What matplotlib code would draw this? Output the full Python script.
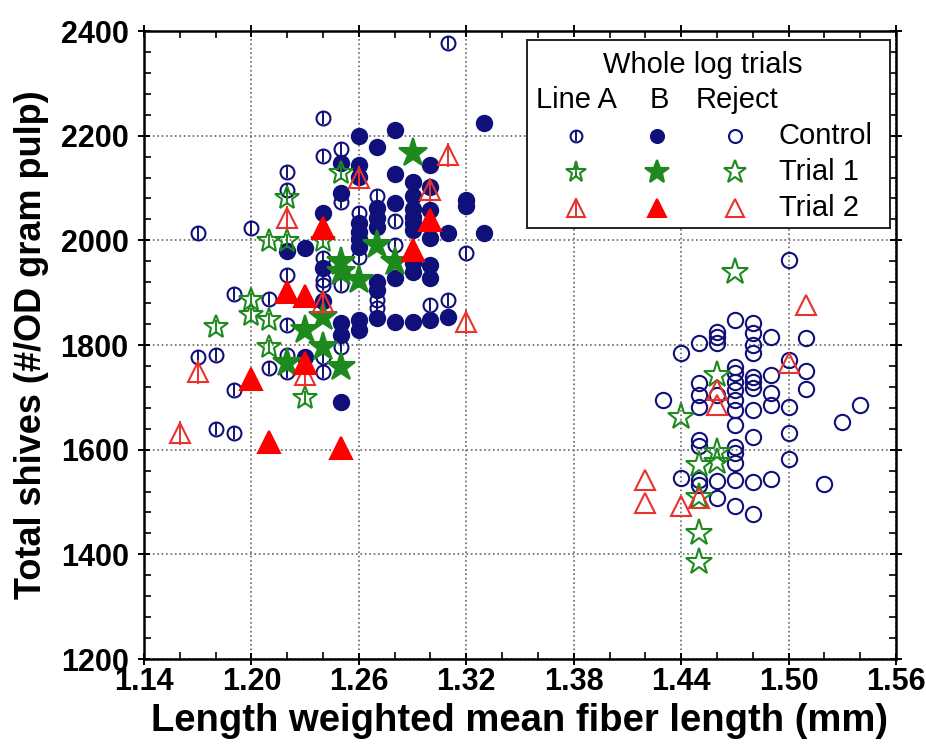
import matplotlib
matplotlib.use("Agg")
import matplotlib.pyplot as plt
from matplotlib.ticker import MultipleLocator

plt.rcParams['font.family'] = ['Liberation Sans', 'DejaVu Sans']

# Line A, control (open circle with bar)
a_ctrl_x = [1.31, 1.24, 1.25, 1.24, 1.22, 1.22, 1.25, 1.27, 1.26, 1.28, 1.20, 1.17,
            1.28, 1.32, 1.26, 1.24, 1.22, 1.24, 1.24, 1.25, 1.19, 1.21, 1.27, 1.31,
            1.30, 1.27, 1.22, 1.25, 1.18, 1.17, 1.22, 1.24, 1.21, 1.24, 1.22, 1.19,
            1.18, 1.19]
a_ctrl_y = [2377, 2234, 2174, 2161, 2131, 2096, 2073, 2085, 2052, 2037, 2024, 2014,
            1991, 1976, 1968, 1966, 1934, 1924, 1915, 1915, 1897, 1888, 1886, 1886,
            1876, 1871, 1838, 1796, 1781, 1777, 1781, 1777, 1756, 1748, 1748, 1714,
            1639, 1632]

# Line B, control (filled circle)
b_ctrl_x = [1.33, 1.28, 1.26, 1.27, 1.25, 1.26, 1.30, 1.28, 1.26, 1.29, 1.30, 1.25,
            1.29, 1.32, 1.28, 1.32, 1.27, 1.29, 1.30, 1.24, 1.27, 1.29, 1.26, 1.29,
            1.27, 1.29, 1.26, 1.31, 1.33, 1.30, 1.26, 1.26, 1.23, 1.22, 1.30, 1.29,
            1.24, 1.29, 1.30, 1.28, 1.27, 1.27, 1.24, 1.31, 1.27, 1.30, 1.26, 1.28,
            1.29, 1.25, 1.26, 1.25, 1.23, 1.25]
b_ctrl_y = [2224, 2211, 2200, 2178, 2148, 2144, 2144, 2127, 2121, 2111, 2102, 2090,
            2085, 2077, 2071, 2066, 2062, 2060, 2058, 2052, 2043, 2044, 2033, 2033,
            2026, 2020, 2016, 2014, 2014, 2004, 2003, 1988, 1986, 1979, 1953, 1957,
            1947, 1940, 1928, 1928, 1920, 1905, 1885, 1853, 1851, 1848, 1848, 1844,
            1844, 1842, 1829, 1819, 1777, 1691]

# Reject, control (open circle)
r_ctrl_x = [1.50, 1.47, 1.48, 1.48, 1.48, 1.48, 1.46, 1.46, 1.46, 1.45, 1.49, 1.51,
            1.44, 1.47, 1.47, 1.47, 1.47, 1.47, 1.47, 1.47, 1.48, 1.48, 1.48, 1.49,
            1.49, 1.49, 1.50, 1.50, 1.51, 1.51, 1.45, 1.45, 1.45, 1.43, 1.46, 1.54,
            1.53, 1.48, 1.48, 1.50, 1.45, 1.45, 1.47, 1.47, 1.47, 1.50, 1.44, 1.45,
            1.45, 1.46, 1.47, 1.48, 1.49, 1.52, 1.46, 1.47, 1.48]
r_ctrl_y = [1962, 1848, 1842, 1823, 1800, 1785, 1825, 1815, 1804, 1804, 1815, 1813,
            1785, 1758, 1746, 1729, 1714, 1695, 1676, 1647, 1739, 1729, 1718, 1743,
            1708, 1685, 1771, 1681, 1750, 1716, 1727, 1704, 1681, 1695, 1704, 1685,
            1652, 1676, 1624, 1632, 1618, 1607, 1605, 1594, 1575, 1582, 1546, 1542,
            1532, 1540, 1542, 1538, 1544, 1534, 1508, 1492, 1477]

# Trial 1
a_t1_x = [1.25, 1.22, 1.21, 1.22, 1.24, 1.20, 1.20, 1.21, 1.18, 1.21, 1.23]
a_t1_y = [2129, 2081, 1998, 1998, 1998, 1886, 1858, 1848, 1834, 1796, 1699]
b_t1_x = [1.29, 1.27, 1.25, 1.25, 1.28, 1.26, 1.24, 1.23, 1.24, 1.25, 1.22]
b_t1_y = [2167, 1991, 1958, 1940, 1958, 1924, 1853, 1829, 1796, 1758, 1765]
r_t1_x = [1.47, 1.46, 1.44, 1.46, 1.46, 1.45, 1.45, 1.45, 1.45]
r_t1_y = [1939, 1743, 1662, 1596, 1577, 1571, 1509, 1441, 1386]

# Trial 2
a_t2_x = [1.31, 1.26, 1.30, 1.22, 1.24, 1.17, 1.16, 1.23, 1.32]
a_t2_y = [2163, 2119, 2096, 2043, 1882, 1748, 1632, 1742, 1844]
b_t2_x = [1.24, 1.30, 1.29, 1.22, 1.23, 1.23, 1.20, 1.21, 1.25]
b_t2_y = [2024, 2039, 1981, 1901, 1894, 1765, 1735, 1614, 1603]
r_t2_x = [1.51, 1.50, 1.46, 1.46, 1.42, 1.42, 1.44, 1.45]
r_t2_y = [1876, 1765, 1714, 1685, 1542, 1498, 1492, 1508]

navy = '#10107a'
green = '#1e8a1e'
red = '#ff0000'
red_open = '#e8322e'

# marker styles
styles = {
    'a_ctrl': dict(marker='o', ms=10, color=navy, fill=False, bar=True),
    'b_ctrl': dict(marker='o', ms=11, color=navy, fill=True, bar=False),
    'r_ctrl': dict(marker='o', ms=11, color=navy, fill=False, bar=False),
    'a_t1': dict(marker='*', ms=18, color=green, fill=False, bar=True),
    'b_t1': dict(marker='*', ms=21, color=green, fill=True, bar=False),
    'r_t1': dict(marker='*', ms=20, color=green, fill=False, bar=False),
    'a_t2': dict(marker='^', ms=15, color=red_open, fill=False, bar=True),
    'b_t2': dict(marker='^', ms=16, color=red, fill=True, bar=False),
    'r_t2': dict(marker='^', ms=15, color=red_open, fill=False, bar=False),
}


def draw(axis, x, y, st):
    face = st['color'] if st['fill'] else 'none'
    axis.plot(x, y, linestyle='none', marker=st['marker'], ms=st['ms'],
              mfc=face, mec=st['color'], mew=1.5, clip_on=False)
    if st['bar']:
        bar_ms = st['ms'] * (1.15 if st['marker'] == '^' else 0.9)
        if st['marker'] == '*':
            bar_ms = st['ms'] * 0.55
        axis.plot(x, y, linestyle='none', marker='|', ms=bar_ms,
                  mec=st['color'], mew=1.4, clip_on=False)


fig = plt.figure(figsize=(9.26, 7.44), dpi=100)
ax = fig.add_axes([0.1555, 0.1142, 0.8121, 0.8441])

draw(ax, r_ctrl_x, r_ctrl_y, styles['r_ctrl'])
draw(ax, a_ctrl_x, a_ctrl_y, styles['a_ctrl'])
draw(ax, b_ctrl_x, b_ctrl_y, styles['b_ctrl'])
draw(ax, a_t1_x, a_t1_y, styles['a_t1'])
draw(ax, b_t1_x, b_t1_y, styles['b_t1'])
draw(ax, r_t1_x, r_t1_y, styles['r_t1'])
draw(ax, a_t2_x, a_t2_y, styles['a_t2'])
draw(ax, b_t2_x, b_t2_y, styles['b_t2'])
draw(ax, r_t2_x, r_t2_y, styles['r_t2'])

ax.set_xlim(1.14, 1.56)
ax.set_ylim(1200, 2400)
ax.xaxis.set_minor_locator(MultipleLocator(0.02))
ax.yaxis.set_major_locator(MultipleLocator(200))
ax.yaxis.set_minor_locator(MultipleLocator(40))
ax.set_xticks([1.14, 1.20, 1.26, 1.32, 1.38, 1.44, 1.50, 1.56])
ax.set_xticklabels(['1.14', '1.20', '1.26', '1.32', '1.38', '1.44', '1.50', '1.56'])
ax.grid(True, which='major', linestyle=':', color='#666666', linewidth=1.2)
ax.tick_params(which='major', direction='inout', length=8, width=1.4,
               top=True, right=True, labelsize=22)
ax.tick_params(which='minor', direction='in', length=5, width=1.2,
               top=True, right=True)
ax.tick_params(axis='y', which='major', pad=7)
ax.tick_params(axis='x', which='major', pad=2)
for lab in ax.get_xticklabels() + ax.get_yticklabels():
    lab.set_fontweight('bold')
for sp in ax.spines.values():
    sp.set_linewidth(1.8)

ax.set_xlabel('Length weighted mean fiber length (mm)', fontsize=27.5,
              fontweight='bold', labelpad=4)
ax.set_ylabel('Total shives (#/OD gram pulp)', fontsize=26,
              fontweight='bold', labelpad=8)

# custom legend box
leg = ax.inset_axes([0.509, 0.686, 0.483, 0.300])
leg.set_xlim(0, 1)
leg.set_ylim(0, 1)
leg.set_xticks([])
leg.set_yticks([])
leg.set_facecolor('white')
for sp in leg.spines.values():
    sp.set_linewidth(1.4)
    sp.set_color('#222222')
leg.set_zorder(5)

leg.text(0.485, 0.867, 'Whole log trials', fontsize=21, ha='center', va='center')
leg.text(0.138, 0.68, 'Line A', fontsize=21, ha='center', va='center')
leg.text(0.366, 0.68, 'B', fontsize=21, ha='center', va='center')
leg.text(0.58, 0.68, 'Reject', fontsize=21, ha='center', va='center')

row_keys = [('a_ctrl', 'b_ctrl', 'r_ctrl'), ('a_t1', 'b_t1', 'r_t1'), ('a_t2', 'b_t2', 'r_t2')]
row_names = ['Control', 'Trial 1', 'Trial 2']
row_y = [0.489, 0.298, 0.106]
col_x = [0.135, 0.358, 0.573]
for keys, name, yy in zip(row_keys, row_names, row_y):
    for k, xx in zip(keys, col_x):
        st = dict(styles[k])
        st['ms'] = st['ms'] * 0.85
        draw(leg, [xx], [yy], st)
    leg.text(0.694, yy, name, fontsize=21, ha='left', va='center')

fig.savefig('out.png', dpi=100)
